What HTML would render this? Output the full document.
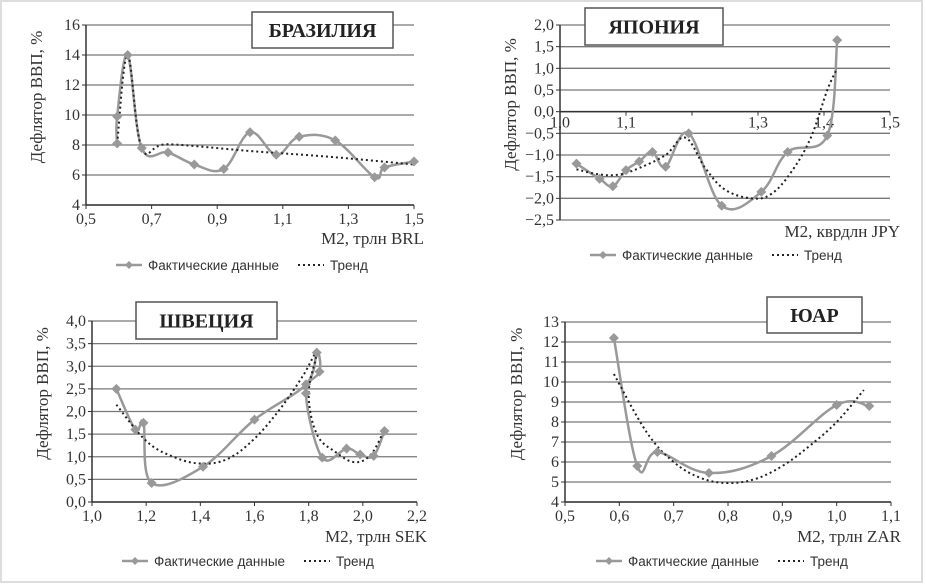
<!DOCTYPE html>
<html><head><meta charset="utf-8"><style>
body{margin:0;background:#fff;}
svg{display:block;}
.tk{font-family:"Liberation Serif",serif;font-size:16px;fill:#333;}
.ttl{font-family:"Liberation Serif",serif;font-size:20px;font-weight:bold;fill:#222;}
.lg{font-family:"Liberation Sans",sans-serif;font-size:13.5px;fill:#333;}
</style></head><body>
<svg id="chart" width="926" height="585" xmlns="http://www.w3.org/2000/svg">
<rect x="0" y="0" width="926" height="585" fill="#fff"/>
<rect x="1" y="1" width="921" height="581" fill="none" stroke="#ddd" stroke-width="2"/>
</svg>
<script>
// Brazil
const brX=[0.595,0.595,0.627,0.67,0.75,0.83,0.92,1.0,1.08,1.15,1.26,1.38,1.41,1.5];
const brY=[8.1,9.9,14,7.8,7.5,6.7,6.4,8.85,7.35,8.55,8.3,5.85,6.5,6.9];
const brTX=[0.595,0.627,0.67,0.75,1.0,1.25,1.5];
const brTY=[8.1,14,7.8,8.05,7.6,7.2,6.7];
const brXTicks=["0,5","0,7","0,9","1,1","1,3","1,5"];
const brYTicks=["4","6","8","10","12","14","16"];
// Japan
const jpX=[1.025,1.06,1.08,1.1,1.12,1.14,1.16,1.195,1.245,1.305,1.345,1.405,1.42];
const jpY=[-1.2,-1.55,-1.72,-1.35,-1.15,-0.93,-1.27,-0.5,-2.17,-1.85,-0.93,-0.55,1.65];
const jpTX=[1.025,1.06,1.09,1.12,1.16,1.19,1.22,1.25,1.29,1.32,1.35,1.38,1.405,1.42];
const jpTY=[-1.33,-1.45,-1.45,-1.3,-1.0,-0.6,-1.3,-1.8,-2.0,-1.9,-1.4,-0.6,0.5,1.0];
const jpXTicks=["1,0","1,1","","1,3","1,4","1,5"];
const jpYTicks=["−2,5","−2,0","−1,5","−1,0","−0,5","0,0","0,5","1,0","1,5","2,0"];
// Sweden
const seX=[1.09,1.16,1.19,1.22,1.41,1.6,1.79,1.83,1.84,1.79,1.85,1.94,1.99,2.04,2.08];
const seY=[2.5,1.6,1.75,0.42,0.78,1.82,2.6,3.3,2.88,2.4,0.98,1.18,1.05,1.02,1.57];
const seTX=[1.09,1.2,1.3,1.4,1.5,1.6,1.7,1.78,1.83,1.8,1.83,1.9,1.97,2.03,2.08];
const seTY=[2.15,1.35,1.0,0.85,0.95,1.4,2.1,2.8,3.3,2.4,1.5,1.1,0.88,1.05,1.6];
const seXTicks=["1,0","1,2","1,4","1,6","1,8","2,0","2,2"];
const seYTicks=["0,0","0,5","1,0","1,5","2,0","2,5","3,0","3,5","4,0"];
// South Africa
const zaX=[0.59,0.633,0.67,0.765,0.88,1.0,1.06];
const zaY=[12.2,5.8,6.5,5.45,6.3,8.85,8.8];
const zaTX=[0.59,0.65,0.7,0.75,0.8,0.85,0.9,0.95,1.0,1.05];
const zaTY=[10.4,7.5,6.0,5.2,4.95,5.15,5.8,6.8,8.0,9.6];
const zaXTicks=["0,5","0,6","0,7","0,8","0,9","1,0","1,1"];
const zaYTicks=["4","5","6","7","8","9","10","11","12","13"];

const NS="http://www.w3.org/2000/svg";
const svg=document.getElementById('chart');
function mk(tag,attrs,parent){const e=document.createElementNS(NS,tag);for(const k in attrs)e.setAttribute(k,attrs[k]);(parent||svg).appendChild(e);return e;}
function smooth(pts){let d="M"+pts[0][0]+","+pts[0][1];for(let i=0;i<pts.length-1;i++){const p0=pts[i-1]||pts[i],p1=pts[i],p2=pts[i+1],p3=pts[i+2]||p2;const t=0.18;
d+=" C"+(p1[0]+(p2[0]-p0[0])*t)+","+(p1[1]+(p2[1]-p0[1])*t)+" "+(p2[0]-(p3[0]-p1[0])*t)+","+(p2[1]-(p3[1]-p1[1])*t)+" "+p2[0]+","+p2[1];}return d;}

function panel(c){
 const g=mk('g',{});
 
 
 const sx=v=>c.x0+(v-c.xmin)/(c.xmax-c.xmin)*(c.x1-c.x0);
 const sy=v=>c.y1-(v-c.ymin)/(c.ymax-c.ymin)*(c.y1-c.y0);
 const ny=c.yTicks.length;
 for(let i=0;i<ny;i++){const v=c.ymin+i*(c.ymax-c.ymin)/(ny-1);const y=sy(v);
  const gl=mk('line',{x1:c.x0,x2:c.x1,y1:y,y2:y,stroke:'#777','stroke-width':1.3},g);
  
  
  mk('line',{x1:c.x0-4,x2:c.x0,y1:y,y2:y,stroke:'#333'},g);
  const t=mk('text',{x:c.x0-6,y:y+5,'text-anchor':'end',class:'tk'},g);t.textContent=c.yTicks[i];
  
  }
 const ax0=c.xAxisY!==undefined?sy(c.xAxisY):c.y1;
 const ya=mk('line',{x1:c.x0,x2:c.x0,y1:c.y0,y2:c.y1,stroke:'#333','stroke-width':1.5},g);
 
 
 const xa=mk('line',{x1:c.x0,x2:c.x1,y1:ax0,y2:ax0,stroke:'#333','stroke-width':1.5},g);
 
 
 const nx=c.xTicks.length;
 for(let i=0;i<nx;i++){const v=c.xmin+i*(c.xmax-c.xmin)/(nx-1);const x=sx(v);
  mk('line',{x1:x,x2:x,y1:ax0,y2:ax0+4,stroke:'#333'},g);
  const t=mk('text',{x:x,y:ax0+(c.xAxisY!==undefined?16:19),'text-anchor':'middle',class:'tk'},g);t.textContent=c.xTicks[i];
  
  }
 const bx=mk('rect',{x:c.tb[0],y:c.tb[1],width:c.tb[2],height:c.tb[3],fill:'#fff',stroke:'#555','stroke-width':1.5},g);
 
 
 const tt=mk('text',{x:c.tb[0]+c.tb[2]/2,y:c.tb[1]+c.tb[3]/2+7,'text-anchor':'middle',class:'ttl'},g);tt.textContent=c.title;
 
 
 const yt=mk('text',{transform:'translate('+c.ytx+','+((c.y0+c.y1)/2-18)+') rotate(-90)','text-anchor':'middle',class:'tk',style:'font-size:17px'},g);yt.textContent='Дефлятор ВВП, %';
 
 
 const xt=mk('text',{x:c.x1+10,y:c.xty,'text-anchor':'end',class:'tk',style:'font-size:17px'},g);xt.textContent=c.xtitle;
 
 
 const pts=c.X.map((v,i)=>[sx(v),sy(c.Y[i])]);
 const ln=mk('path',{d:smooth(pts),fill:'none',stroke:'#999','stroke-width':2.5},g);
 
 
 const tp=c.TX.map((v,i)=>[sx(v),sy(c.TY[i])]);
 const tl=mk('path',{d:smooth(tp),fill:'none',stroke:'#222','stroke-width':2,'stroke-dasharray':'2 3'},g);
 
 
 pts.forEach(p=>{const m=mk('path',{d:`M${p[0]},${p[1]-5}L${p[0]+5},${p[1]}L${p[0]},${p[1]+5}L${p[0]-5},${p[1]}Z`,fill:'#999'},g);
  
  });
 const L=c.lg;
 const l1=mk('line',{x1:L[0],x2:L[0]+26,y1:L[1],y2:L[1],stroke:'#999','stroke-width':2.5},g);
 
 
 mk('path',{d:`M${L[0]+13},${L[1]-4}L${L[0]+17},${L[1]}L${L[0]+13},${L[1]+4}L${L[0]+9},${L[1]}Z`,fill:'#999'},g);
 const a=mk('text',{x:L[0]+32,y:L[1]+5,class:'lg'},g);a.textContent='Фактические данные';
 
 
 const l2=mk('line',{x1:L[0]+182,x2:L[0]+208,y1:L[1],y2:L[1],stroke:'#222','stroke-width':2,'stroke-dasharray':'2 3'},g);
 
 
 const b=mk('text',{x:L[0]+214,y:L[1]+5,class:'lg'},g);b.textContent='Тренд';
 
 
}
panel({name:'brazil',x0:86,x1:414,y0:25,y1:205,xmin:0.5,xmax:1.5,ymin:4,ymax:16,X:brX,Y:brY,TX:brTX,TY:brTY,xTicks:brXTicks,yTicks:brYTicks,tb:[252,12,141,36],title:'БРАЗИЛИЯ',ytx:42,xtitle:'M2, трлн BRL',xty:244,lg:[116,265]});
panel({name:'japan',x0:560,x1:890,y0:25,y1:220,xmin:1.0,xmax:1.5,ymin:-2.5,ymax:2.0,xAxisY:0,X:jpX,Y:jpY,TX:jpTX,TY:jpTY,xTicks:jpXTicks,yTicks:jpYTicks,tb:[585,8,138,37],title:'ЯПОНИЯ',ytx:516,xtitle:'M2, кврдлн JPY',xty:237,lg:[590,255]});
panel({name:'sweden',x0:92,x1:417,y0:321,y1:502,xmin:1.0,xmax:2.2,ymin:0,ymax:4,X:seX,Y:seY,TX:seTX,TY:seTY,xTicks:seXTicks,yTicks:seYTicks,tb:[136,302,141,37],title:'ШВЕЦИЯ',ytx:48,xtitle:'M2, трлн SEK',xty:542,lg:[122,561]});
panel({name:'south-africa',x0:565,x1:891,y0:322,y1:502,xmin:0.5,xmax:1.1,ymin:4,ymax:13,X:zaX,Y:zaY,TX:zaTX,TY:zaTY,xTicks:zaXTicks,yTicks:zaYTicks,tb:[767,297,95,36],title:'ЮАР',ytx:522,xtitle:'M2, трлн ZAR',xty:542,lg:[596,561]});
</script>
</body></html>
